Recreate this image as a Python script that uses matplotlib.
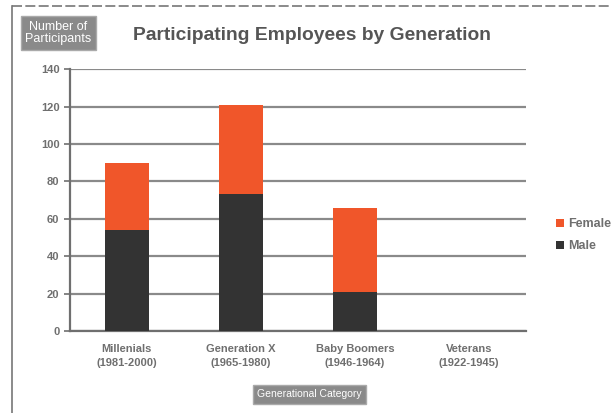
import matplotlib.pyplot as plt
import numpy as np

plt.rcParams['font.family'] = ['Liberation Sans', 'DejaVu Sans']

categories = ['Millenials\n(1981-2000)', 'Generation X\n(1965-1980)',
              'Baby Boomers\n(1946-1964)', 'Veterans\n(1922-1945)']
male = [54, 73, 21, 0]
female = [36, 48, 45, 0]

grey = '#6f6f6f'
orange = '#f0562a'
dark = '#333333'

fig = plt.figure(figsize=(6.13, 4.13), dpi=100)
ax = fig.add_axes([0.114, 0.1985, 0.744, 0.634])

x = np.arange(len(categories))
ax.bar(x, male, width=0.39, color=dark, label='Male', zorder=3)
ax.bar(x, female, width=0.39, bottom=male, color=orange, label='Female', zorder=3)

ax.set_ylim(0, 140)
ax.set_xlim(-0.5, 3.5)
ax.set_yticks(range(0, 141, 20))
ax.yaxis.grid(True, color='#8a8a8a', linewidth=1.6, zorder=0)
ax.set_xticks(x)
ax.set_xticklabels(categories, fontsize=8, fontweight='bold', color=grey, linespacing=1.5)
ax.tick_params(axis='y', labelsize=8, labelcolor=grey, colors=grey, length=4, width=1.2)
ax.tick_params(axis='x', length=0, pad=9)
for s in ['top', 'right']:
    ax.spines[s].set_visible(False)
ax.spines['left'].set_color(grey)
ax.spines['left'].set_linewidth(1.6)
ax.spines['bottom'].set_color(grey)
ax.spines['bottom'].set_linewidth(1.6)
for lab in ax.get_yticklabels():
    lab.set_fontweight('bold')

handles, labels = ax.get_legend_handles_labels()
leg = fig.legend(handles[::-1], labels[::-1], loc='center left', bbox_to_anchor=(0.888, 0.43),
                 frameon=False, fontsize=9, handlelength=0.7, handleheight=0.7,
                 handletextpad=0.3, labelspacing=0.8)
for t in leg.get_texts():
    t.set_color(grey)
    t.set_fontweight('bold')

fig.text(0.217, 0.915, 'Participating Employees by Generation', fontsize=13.9,
         fontweight='bold', color='#555555', va='center')
fig.text(0.095, 0.92, 'Number of\nParticipants', fontsize=9, color='white', ha='center',
         va='center', linespacing=1.1,
         bbox=dict(boxstyle='square,pad=0.35', facecolor='#8a8a8a', edgecolor='#aaaaaa'))
fig.text(0.505, 0.045, 'Generational Category', fontsize=7.5, color='white', ha='center',
         va='center', bbox=dict(boxstyle='square,pad=0.4', facecolor='#8a8a8a', edgecolor='#aaaaaa'))

# scanned page frame
fig.add_artist(plt.Line2D([0.02, 0.995], [0.985, 0.985], color='#777777', lw=1.2, linestyle=(0, (6, 2))))
fig.add_artist(plt.Line2D([0.02, 0.02], [0.0, 0.985], color='#777777', lw=1.2))

fig.savefig('out.png', dpi=100)
